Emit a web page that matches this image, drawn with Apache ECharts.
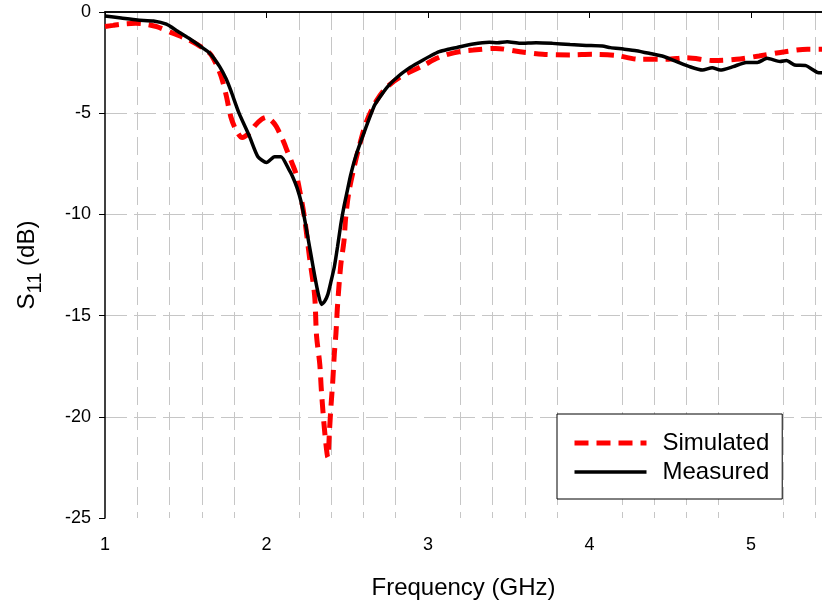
<!DOCTYPE html>
<html>
<head>
<meta charset="utf-8">
<script src="https://cdn.jsdelivr.net/npm/echarts@6/dist/echarts.min.js"></script>
<style>
html,body{margin:0;padding:0;background:#fff;}
#c{width:822px;height:607px;}
</style>
</head>
<body>
<div id="c"></div>
<script>
// ---- data ----
const seriesNames = ['Simulated', 'Measured'];
const xTickValues = [1, 2, 3, 4, 5];
const yTickValues = [0, -5, -10, -15, -20, -25];

const simFreq = [1.00,1.05,1.09,1.19,1.25,1.32,1.42,1.52,1.60,1.65,1.69,1.72,1.75,1.78,1.81,1.85,1.89,1.93,1.97,2.00,2.03,2.06,2.10,2.13,2.16,2.185,2.21,2.236,2.267,2.298,2.31,2.33,2.34,2.36,2.38,2.39,2.40,2.41,2.42,2.43,2.44,2.46,2.48,2.49,2.51,2.546,2.577,2.62,2.68,2.74,2.83,2.97,3.05,3.11,3.20,3.28,3.42,3.57,3.71,3.88,4.02,4.16,4.31,4.48,4.60,4.77,4.91,5.05,5.21,5.35,5.44];
const simS11 = [-0.72,-0.66,-0.61,-0.56,-0.60,-0.72,-1.05,-1.38,-1.75,-2.05,-2.6,-3.2,-4.1,-5.2,-5.8,-6.2,-6.0,-5.6,-5.3,-5.2,-5.35,-5.65,-6.3,-6.9,-7.5,-8.05,-9.0,-10.2,-12.15,-14.0,-16.0,-17.4,-18.7,-20.7,-22.0,-20.7,-19.4,-18.3,-16.9,-15.9,-14.5,-12.5,-11.3,-10.2,-8.9,-7.55,-6.55,-5.4,-4.4,-3.75,-3.2,-2.65,-2.3,-2.12,-1.95,-1.88,-1.80,-1.96,-2.09,-2.12,-2.09,-2.14,-2.34,-2.34,-2.26,-2.40,-2.34,-2.17,-1.96,-1.84,-1.84];

const measFreq = [1.00,1.10,1.20,1.30,1.38,1.45,1.52,1.60,1.65,1.71,1.75,1.78,1.83,1.895,1.947,2.00,2.05,2.09,2.14,2.16,2.19,2.215,2.24,2.26,2.28,2.30,2.32,2.34,2.36,2.38,2.40,2.42,2.44,2.46,2.48,2.50,2.52,2.55,2.60,2.67,2.72,2.76,2.82,2.87,2.92,2.97,3.02,3.07,3.12,3.18,3.28,3.38,3.43,3.49,3.57,3.67,3.77,3.88,3.98,4.08,4.13,4.21,4.29,4.37,4.46,4.54,4.62,4.70,4.76,4.81,4.89,4.97,5.04,5.10,5.18,5.22,5.27,5.34,5.41,5.44];
const measS11 = [-0.20,-0.30,-0.40,-0.44,-0.60,-0.95,-1.30,-1.75,-2.05,-2.70,-3.30,-3.90,-5.0,-6.15,-7.15,-7.44,-7.15,-7.15,-7.8,-8.1,-8.7,-9.4,-10.4,-11.3,-12.2,-13.1,-13.9,-14.45,-14.3,-13.95,-13.3,-12.6,-11.6,-10.5,-9.6,-8.85,-8.1,-7.2,-6.05,-4.6,-4.0,-3.6,-3.15,-2.85,-2.6,-2.37,-2.15,-1.96,-1.85,-1.75,-1.58,-1.50,-1.52,-1.47,-1.55,-1.52,-1.55,-1.61,-1.65,-1.68,-1.76,-1.83,-1.91,-2.04,-2.20,-2.45,-2.70,-2.87,-2.75,-2.87,-2.70,-2.49,-2.49,-2.29,-2.45,-2.40,-2.62,-2.65,-2.98,-3.00];

const FONT = "'Liberation Sans', Arial, sans-serif";
const pair = (xs, ys) => xs.map((x, i) => [x, ys[i]]);
const gridColor = '#c6c6c6';
const clear = 'rgba(0,0,0,0)';

const chart = echarts.init(document.getElementById('c'), null, {renderer: 'canvas'});
chart.setOption({
  animation: false,
  backgroundColor: '#ffffff',
  grid: {left: 105, right: 0, top: 12, bottom: 89, containLabel: false},
  legend: {
    orient: 'vertical',
    left: 557, top: 414,
    padding: [17, 13, 15, 15],
    itemGap: 5,
    itemWidth: 72, itemHeight: 20,
    backgroundColor: '#ffffff',
    borderColor: '#000', borderWidth: 1,
    itemStyle: {opacity: 0},
    lineStyle: {width: 'inherit', type: 'inherit', opacity: 1},
    textStyle: {fontFamily: FONT, fontSize: 24, color: '#000', lineHeight: 24, padding: [0, 0, 0, 11]},
    data: seriesNames
  },
  xAxis: [{
    type: 'value', min: xTickValues[0], max: 5.44, interval: 1,
    position: 'bottom',
    axisLine: {show: true, lineStyle: {color: '#000', width: 1.5}},
    axisTick: {show: true, length: 6, lineStyle: {color: '#000', width: 1}},
    axisLabel: {fontFamily: FONT, fontSize: 18, color: '#000', margin: 18, showMaxLabel: false},
    splitLine: {show: false},
    name: 'Frequency (GHz)', nameLocation: 'middle', nameGap: 58,
    nameTextStyle: {fontFamily: FONT, fontSize: 24, color: '#000'}
  }, {
    type: 'value', min: 1, max: 5.44, interval: 0.2,
    position: 'top',
    axisLine: {show: true, lineStyle: {color: '#000', width: 1.5}},
    axisTick: {show: false}, axisLabel: {show: false},
    splitLine: {show: true, showMinLine: false, showMaxLine: false,
      lineStyle: {color: [gridColor, gridColor, gridColor, gridColor, clear], width: 1, type: [18, 7]}}
  }],
  yAxis: {
    type: 'value', min: yTickValues[yTickValues.length - 1], max: yTickValues[0], interval: 5,
    axisLine: {show: true, lineStyle: {color: '#000', width: 1.5}},
    axisTick: {show: true, length: 6, lineStyle: {color: '#000', width: 1}},
    axisLabel: {fontFamily: FONT, fontSize: 18, color: '#000', margin: 14},
    splitLine: {show: true, showMinLine: false, showMaxLine: false,
      lineStyle: {color: gridColor, width: 1, type: [22, 7]}},
    name: '{a|S}{b|11}{a| (dB)}', nameLocation: 'middle', nameGap: 66, nameRotate: 90,
    nameTextStyle: {
      rich: {
        a: {fontFamily: FONT, fontSize: 24, color: '#000', lineHeight: 24, verticalAlign: 'top'},
        b: {fontFamily: FONT, fontSize: 20, color: '#000', lineHeight: 20, verticalAlign: 'top', padding: [10, 0, 0, 0]}
      }
    }
  },
  series: [{
    name: seriesNames[0], type: 'line', xAxisIndex: 0,
    data: pair(simFreq, simS11),
    showSymbol: false, symbol: 'none', smooth: 0.3,
    lineStyle: {color: '#ff0000', width: 5, type: [14, 8]},
    itemStyle: {color: '#ff0000'},
    z: 3
  }, {
    name: seriesNames[1], type: 'line', xAxisIndex: 0,
    data: pair(measFreq, measS11),
    showSymbol: false, symbol: 'none', smooth: 0.2,
    lineStyle: {color: '#000000', width: 3.5},
    itemStyle: {color: '#000000'},
    z: 4
  }]
});
</script>
</body>
</html>
